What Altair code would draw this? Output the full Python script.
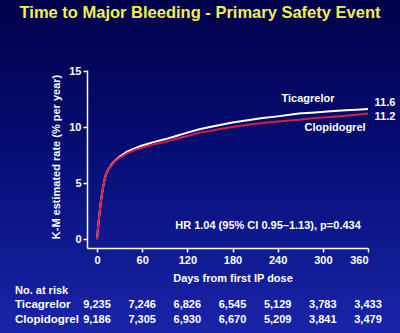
import altair as alt
import pandas as pd

days = [0, 2, 4, 6, 8, 10, 12, 15, 20, 25, 30, 40, 50, 60, 75, 90, 105, 120, 136, 150, 165, 180, 200, 220, 240, 268, 290, 310, 330, 345, 360]
ticagrelor = [0, 1.5, 2.7, 3.8, 4.6, 5.3, 5.8, 6.2, 6.7, 7.05, 7.35, 7.8, 8.1, 8.35, 8.65, 8.9, 9.2, 9.5, 9.8, 10.0, 10.2, 10.4, 10.6, 10.8, 10.95, 11.2, 11.3, 11.4, 11.5, 11.55, 11.6]
clopidogrel = [0, 1.5, 2.7, 3.8, 4.6, 5.3, 5.8, 6.2, 6.65, 7.0, 7.25, 7.65, 7.95, 8.15, 8.45, 8.65, 8.95, 9.2, 9.5, 9.65, 9.85, 10.0, 10.2, 10.35, 10.5, 10.65, 10.8, 10.9, 11.0, 11.1, 11.2]

risk_days = [0, 60, 120, 180, 240, 300, 360]
risk_tica = ["9,235", "7,246", "6,826", "6,545", "5,129", "3,783", "3,433"]
risk_clop = ["9,186", "7,305", "6,930", "6,670", "5,209", "3,841", "3,479"]

FONT = "Liberation Sans"
W, H = 281, 178
PL, PT = 87, 70

xs = alt.Scale(domain=[-13.3, 360], nice=False, zero=False)
ys = alt.Scale(domain=[-0.8, 15.09], nice=False, zero=False)

curves = pd.DataFrame({
    "day": days * 2,
    "rate": ticagrelor + clopidogrel,
    "arm": ["Ticagrelor"] * len(days) + ["Clopidogrel"] * len(days),
    "order": [0] * len(days) + [1] * len(days),
})
risk = pd.DataFrame({"day": risk_days, "tica": risk_tica, "clop": risk_clop})
one = pd.DataFrame({"a": [0]})

bg = alt.Chart(one).mark_rect(
    color=alt.Gradient(
        gradient="linear", x1=0, y1=0, x2=0, y2=1,
        stops=[alt.GradientStop(color="#00004a", offset=0),
               alt.GradientStop(color="#060f78", offset=0.5),
               alt.GradientStop(color="#1a24aa", offset=1)],
    )
).encode(
    x=alt.value(-PL), x2=alt.value(400 - PL),
    y=alt.value(-PT), y2=alt.value(333 - PT),
)

axis_common = dict(title=None, grid=False, zindex=2,
                   domainColor="white", domainWidth=1.5,
                   tickColor="white", tickSize=4, tickWidth=1.5,
                   labelColor="white", labelFont=FONT, labelFontWeight="bold",
                   labelFontSize=11, labelPadding=2)

lines = alt.Chart(curves).mark_line(strokeWidth=2, clip=True).encode(
    x=alt.X("day:Q", scale=xs, axis=alt.Axis(values=risk_days, **axis_common)),
    y=alt.Y("rate:Q", scale=ys, axis=alt.Axis(values=[0, 5, 10, 15], **axis_common)),
    color=alt.Color("arm:N", scale=alt.Scale(domain=["Ticagrelor", "Clopidogrel"],
                                             range=["#ffffff", "#d81e3c"]), legend=None),
    order=alt.Order("order:Q"),
    detail="arm:N",
)

def txt(text, x, y, size=11, color="white", align="center", angle=0, weight="bold"):
    kw = dict(text=text, font=FONT, fontSize=size, fontWeight=weight, color=color,
              align=align, baseline="middle")
    if angle:
        kw["angle"] = angle
    return alt.Chart(one).mark_text(**kw).encode(x=alt.value(x - PL), y=alt.value(y - PT))

texts = [
    txt("Time to Major Bleeding - Primary Safety Event", 200, 13, size=16.5, color="#f2f04a"),
    txt("K-M estimated rate (% per year)", 57, 157, angle=270),
    txt("Ticagrelor", 308, 99),
    txt("Clopidogrel", 335, 128),
    txt("11.6", 385, 103),
    txt("11.2", 385, 117),
    txt("HR 1.04 (95% CI 0.95\u20131.13), p=0.434", 268, 226),
    txt("Days from first IP dose", 233, 279),
    txt("No. at risk", 15, 291, align="left"),
    txt("Ticagrelor", 15, 305, size=11.5, align="left"),
    txt("Clopidogrel", 15, 320, size=11.5, align="left"),
]

nums_t = alt.Chart(risk).mark_text(font=FONT, fontSize=11, fontWeight="bold", color="white",
                                   baseline="middle").encode(
    x=alt.X("day:Q", scale=xs), y=alt.value(305 - PT), text="tica:N")
nums_c = alt.Chart(risk).mark_text(font=FONT, fontSize=11, fontWeight="bold", color="white",
                                   baseline="middle").encode(
    x=alt.X("day:Q", scale=xs), y=alt.value(320 - PT), text="clop:N")

chart = alt.layer(bg, lines, *texts, nums_t, nums_c).properties(
    width=W, height=H,
    autosize=alt.AutoSizeParams(type="none"),
    padding={"left": PL, "top": PT, "right": 400 - PL - W, "bottom": 333 - PT - H},
    background="#00004a",
).configure_view(stroke=None)

chart.save("out.html", embed_options={"renderer": "svg", "actions": False})
